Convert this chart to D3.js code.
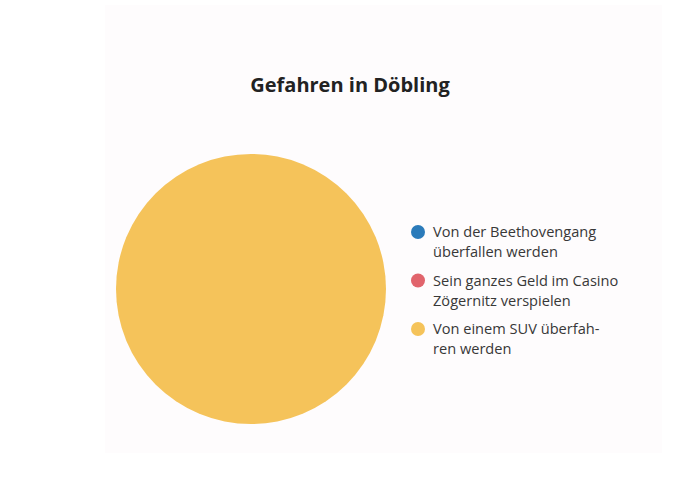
<!DOCTYPE html>
<html>
<head>
<meta charset="utf-8">
<script src="https://cdn.jsdelivr.net/npm/d3@7"></script>
<style>
  body { margin: 0; background: #fff; }
</style>
</head>
<body>
<script>
const width = 700;
const height = 501;

const categories = [
    ["Von der Beethovengang", "überfallen werden"],
    ["Sein ganzes Geld im Casino", "Zögernitz verspielen"],
    ["Von einem SUV überfah-", "ren werden"]
];
const values = [0, 0, 100];
const colors = ["#2b7bba", "#e1646c", "#f5c35a"];

const svg = d3.select("body").append("svg")
    .attr("width", width)
    .attr("height", height);

// faint panel behind the chart
svg.append("rect")
    .attr("x", 105)
    .attr("y", 5)
    .attr("width", 557)
    .attr("height", 448)
    .style("fill", "#fefcfd");

svg.append("text")
    .attr("x", 350)
    .attr("y", 92)
    .text("Gefahren in Döbling")
    .style("font-size", "20px")
    .style("font-weight", "bold")
    .style("text-anchor", "middle")
    .style("font-family", "Open Sans")
    .style("fill", "#222");

const color = d3.scaleOrdinal()
    .domain(d3.range(values.length))
    .range(colors);

const pie = d3.pie().sort(null).value(d => d);
const arc = d3.arc().innerRadius(0).outerRadius(135);

svg.append("g")
    .attr("transform", "translate(251, 289)")
    .selectAll("path")
    .data(pie(values))
    .enter()
    .append("path")
    .attr("d", arc)
    .style("fill", (d, i) => color(i));

const legend = svg.append("g")
    .attr("transform", "translate(418, 232)");

const item = legend.selectAll("g")
    .data(categories)
    .enter()
    .append("g")
    .attr("transform", (d, i) => `translate(0, ${i * 48.5})`);

item.append("circle")
    .attr("r", 7)
    .style("fill", (d, i) => color(i));

item.append("text")
    .attr("x", 15)
    .attr("y", 5)
    .style("font-size", "14.6px")
    .style("font-family", "Open Sans")
    .style("fill", "#383838")
    .selectAll("tspan")
    .data(d => d)
    .enter()
    .append("tspan")
    .attr("x", 15)
    .attr("dy", (d, i) => i === 0 ? 0 : 20)
    .text(d => d);
</script>
</body>
</html>
